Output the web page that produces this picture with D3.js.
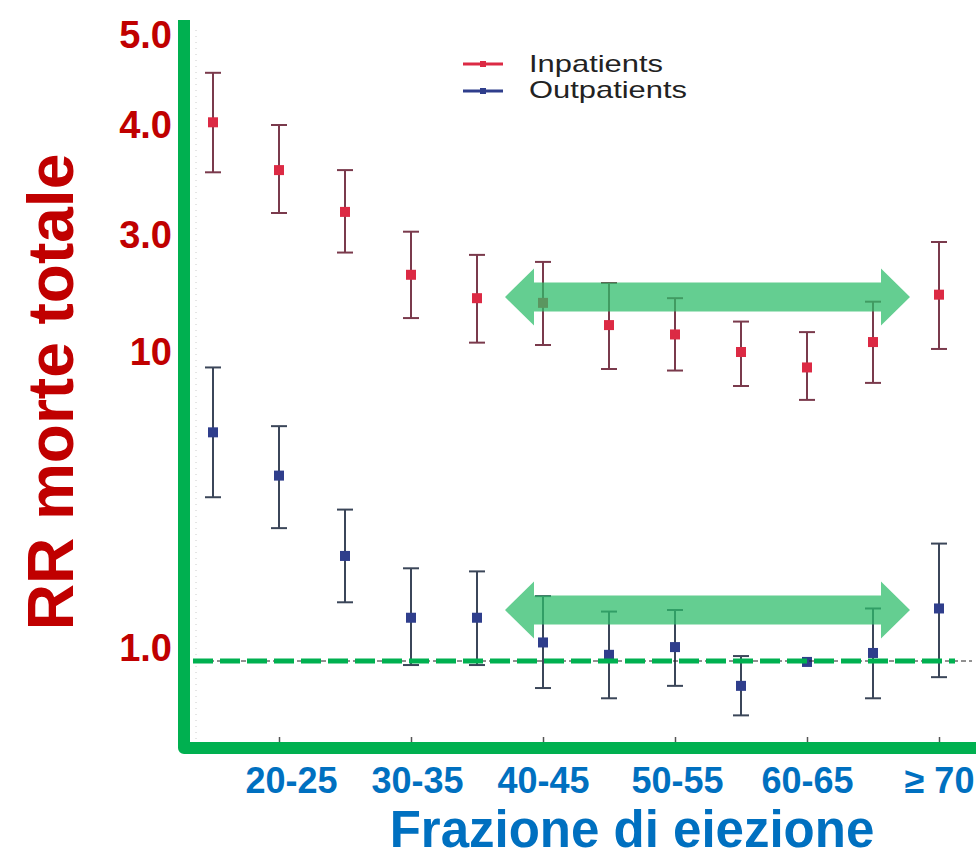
<!DOCTYPE html>
<html>
<head>
<meta charset="utf-8">
<script src="https://cdn.jsdelivr.net/npm/d3@7"></script>
<style>
  html, body { margin: 0; padding: 0; background: #fff; }
  svg { display: block; }
</style>
</head>
<body>
<svg id="chart" width="976" height="859"></svg>
<script>
// ---------------- DATA ----------------
const categories = ["<20","20-25","25-30","30-35","35-40","40-45","45-50","50-55","55-60","60-65","65-70","≥ 70"];
const xTickLabels = ["20-25","30-35","40-45","50-55","60-65","≥ 70"];
const yTickValues = [5, 4, 3, 2, 1];
const yTickLabels = ["5.0","4.0","3.0","10","1.0"];

const inpatientRR   = [4.03, 3.59, 3.21, 2.66, 2.46, 2.42, 2.23, 2.15, 2.00, 1.95, 2.085, 2.49];
const inpatientLow  = [3.57, 3.20, 2.85, 2.29, 2.08, 2.06, 1.945, 1.94, 1.89, 1.845, 1.90, 2.026];
const inpatientHigh = [4.58, 4.00, 3.59, 3.03, 2.83, 2.77, 2.59, 2.46, 2.26, 2.17, 2.43, 2.94];

const outpatientRR   = [1.74, 1.60, 1.34, 1.14, 1.14, 1.06, 1.02, 1.045, 0.92, 0.997, 1.026, 1.17];
const outpatientLow  = [1.53, 1.43, 1.19, 0.987, 0.987, 0.913, 0.88, 0.92, 0.825, 0.997, 0.88, 0.948];
const outpatientHigh = [1.95, 1.76, 1.49, 1.30, 1.29, 1.21, 1.16, 1.165, 1.016, 0.997, 1.17, 1.38];

const seriesNames = ["Inpatients", "Outpatients"];
const referenceRR = 1.0;
// highlighted ranges (arrows): from between cat a/b to between cat c/d, at RR level
const arrowSpans = [
  { fromA: "35-40", fromB: "40-45", toA: "65-70", toB: "≥ 70", rr: 2.47 },
  { fromA: "35-40", fromB: "40-45", toA: "65-70", toB: "≥ 70", rr: 1.165 }
];

// ---------------- SETUP ----------------
const svg = d3.select("#chart");
const x = d3.scalePoint().domain(categories).range([213, 939]);
const y = d3.scaleLinear().domain([0.72, 1, 2, 3, 4, 5]).range([748, 661, 352, 235, 125, 35]);

const RED = "#dc2a44", RED_BAR = "#7a3a4c";
const BLUE = "#2f3e8c", BLUE_BAR = "#3b4659";
const GREEN = "#00b050";
const AXRED = "#c00000", AXBLUE = "#0070c0";
const FONT = "'Liberation Sans', Arial, Helvetica, sans-serif";

// faint original axis (dotted)
svg.append("line").attr("x1", 196).attr("x2", 196).attr("y1", 30).attr("y2", 740)
  .attr("stroke", "#ccc").attr("stroke-width", 1).attr("stroke-dasharray", "1,5");

// small original x ticks
const gx = svg.append("g").attr("transform", "translate(0,742)");
gx.call(d3.axisBottom(x).tickValues(categories.filter((d, i) => i % 2 === 1)).tickSize(-5).tickFormat(""));
gx.select(".domain").remove();
gx.selectAll(".tick line").attr("stroke", "#555").attr("stroke-width", 1.5);

// ---------------- ERROR BARS + POINTS ----------------
function drawSeries(rr, lo, hi, markColor, barColor) {
  const g = svg.append("g");
  const data = categories.map((c, i) => ({ c, rr: rr[i], lo: lo[i], hi: hi[i] }));
  const bars = data.filter(d => d.hi > d.lo);
  g.selectAll("line.v").data(bars).join("line")
    .attr("x1", d => x(d.c)).attr("x2", d => x(d.c))
    .attr("y1", d => y(d.hi)).attr("y2", d => y(d.lo))
    .attr("stroke", barColor).attr("stroke-width", 2);
  g.selectAll("line.hi").data(bars).join("line")
    .attr("x1", d => x(d.c) - 8).attr("x2", d => x(d.c) + 8)
    .attr("y1", d => y(d.hi)).attr("y2", d => y(d.hi))
    .attr("stroke", barColor).attr("stroke-width", 2);
  g.selectAll("line.lo").data(bars).join("line")
    .attr("x1", d => x(d.c) - 8).attr("x2", d => x(d.c) + 8)
    .attr("y1", d => y(d.lo)).attr("y2", d => y(d.lo))
    .attr("stroke", barColor).attr("stroke-width", 2);
  g.selectAll("rect").data(data).join("rect")
    .attr("x", d => x(d.c) - 5).attr("y", d => y(d.rr) - 5)
    .attr("width", 10).attr("height", 10)
    .attr("fill", markColor);
}
drawSeries(inpatientRR, inpatientLow, inpatientHigh, RED, RED_BAR);
drawSeries(outpatientRR, outpatientLow, outpatientHigh, BLUE, BLUE_BAR);

// ---------------- REFERENCE LINE ----------------
svg.append("line").attr("x1", 193).attr("x2", 972).attr("y1", y(referenceRR)).attr("y2", y(referenceRR))
  .attr("stroke", "#222").attr("stroke-width", 1).attr("stroke-dasharray", "5,3");
svg.append("line").attr("x1", 193).attr("x2", 955).attr("y1", y(referenceRR)).attr("y2", y(referenceRR))
  .attr("stroke", GREEN).attr("stroke-width", 5).attr("stroke-dasharray", "20,7");

// ---------------- ARROWS ----------------
arrowSpans.forEach(a => {
  const x1 = (x(a.fromA) + x(a.fromB)) / 2 - 5;
  const x2 = (x(a.toA) + x(a.toB)) / 2 + 4;
  const cy = y(a.rr);
  const sh = 14.5, hh = 28.5, hl = 29;
  const pts = [
    [x1, cy], [x1 + hl, cy - hh], [x1 + hl, cy - sh], [x2 - hl, cy - sh], [x2 - hl, cy - hh],
    [x2, cy], [x2 - hl, cy + hh], [x2 - hl, cy + sh], [x1 + hl, cy + sh], [x1 + hl, cy + hh]
  ];
  svg.append("polygon").attr("points", pts.map(p => p.join(",")).join(" "))
    .attr("fill", "#2ebd6b").attr("fill-opacity", 0.74);
});

// ---------------- GREEN AXES ----------------
svg.append("path").attr("d", `M184,20 V748 H982`)
  .attr("fill", "none").attr("stroke", GREEN).attr("stroke-width", 12)
  .attr("stroke-linejoin", "round");

// ---------------- Y AXIS LABELS ----------------
const gy = svg.append("g").attr("transform", "translate(184,0)");
gy.call(d3.axisLeft(y).tickValues(yTickValues).tickSize(0).tickPadding(12)
  .tickFormat((d, i) => yTickLabels[i]));
gy.select(".domain").remove();
gy.selectAll(".tick text")
  .attr("fill", AXRED).attr("font-family", FONT).attr("font-weight", "bold")
  .attr("font-size", 38).attr("dy", d => d === 1 ? "-0.02em" : "0.32em");

// ---------------- X AXIS LABELS ----------------
const labelCats = categories.filter((d, i) => i % 2 === 1);
const gxl = svg.append("g").attr("transform", "translate(0,793)");
gxl.call(d3.axisBottom(x).tickValues(labelCats).tickSize(0).tickPadding(0)
  .tickFormat((d, i) => xTickLabels[i]));
gxl.select(".domain").remove();
gxl.selectAll(".tick text")
  .attr("fill", AXBLUE).attr("font-family", FONT).attr("font-weight", "bold")
  .attr("font-size", 36).attr("dy", 0)
  .attr("dx", (d, i) => [12, 6, 0, 2, 0, 0][i]);

// ---------------- TITLES ----------------
svg.append("text").attr("transform", "translate(73,392) rotate(-90)")
  .attr("text-anchor", "middle").attr("fill", AXRED)
  .attr("font-family", FONT).attr("font-weight", "bold").attr("font-size", 64)
  .text("RR morte totale");
svg.append("text").attr("x", 632).attr("y", 847)
  .attr("text-anchor", "middle").attr("fill", AXBLUE)
  .attr("font-family", FONT).attr("font-weight", "bold").attr("font-size", 51)
  .text("Frazione di eiezione");

// ---------------- LEGEND ----------------
const legend = svg.append("g");
[[RED, 64, 72, 134], [BLUE, 91, 98, 158]].forEach((s, i) => {
  legend.append("line").attr("x1", 463).attr("x2", 503).attr("y1", s[1]).attr("y2", s[1])
    .attr("stroke", s[0]).attr("stroke-width", 3);
  legend.append("rect").attr("x", 480).attr("y", s[1] - 3).attr("width", 6).attr("height", 6).attr("fill", s[0]);
  legend.append("text").attr("x", 529).attr("y", s[2])
    .attr("font-family", FONT).attr("font-size", 24).attr("fill", "#222")
    .attr("textLength", s[3]).attr("lengthAdjust", "spacingAndGlyphs")
    .text(seriesNames[i]);
});
</script>
</body>
</html>
